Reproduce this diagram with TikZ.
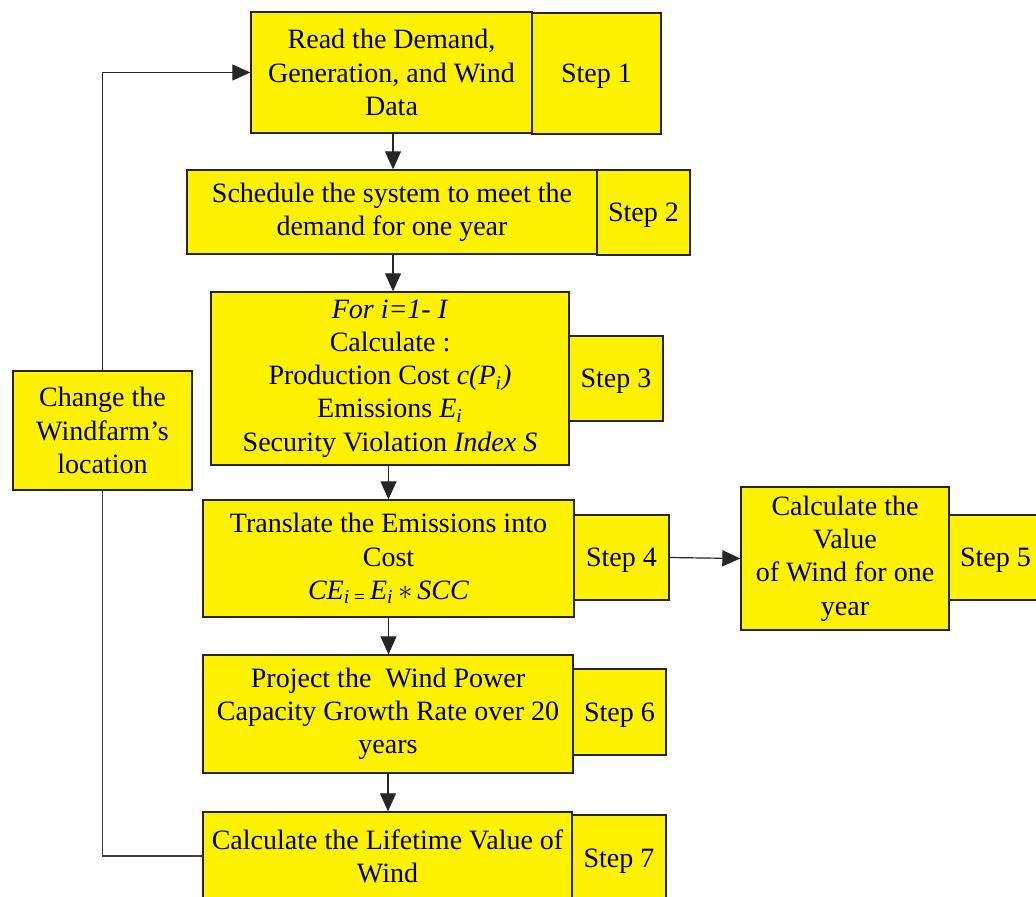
\documentclass[tikz,border=0pt]{standalone}
\usepackage{fontspec}
\setmainfont{Liberation Serif}
\usetikzlibrary{arrows.meta}
\begin{document}
\begin{tikzpicture}[
        x=0.5pt, y=-0.5pt,
        font=\fontsize{14pt}{16.6pt}\selectfont,
        box/.style={draw=black!85, fill=yellow, line width=0.7pt, align=center, inner sep=0pt},
        stepbox/.style={box, text depth=0pt, minimum height=42.5pt},
        flow/.style={-{Triangle[length=9pt,width=8pt]}, line width=0.6pt, black!85},
        loop/.style={line width=0.6pt, black!75}
    ]
        \useasboundingbox (0,0) rectangle (1036,896);

        % Pasos principales
        \node[box, minimum width=140.5pt, minimum height=60.5pt] (read) at (391.5,72.5)
            {Read the Demand,\\Generation, and Wind\\Data};
        \node[stepbox, minimum width=64.5pt, minimum height=60.5pt] (s1) at (596.5,73.5) {Step 1};

        \node[box, minimum width=205pt, minimum height=42pt] (sched) at (392,212)
            {Schedule the system to meet the\\demand for one year};
        \node[stepbox, minimum width=46.5pt] (s2) at (643.5,212.5) {Step 2};

        \node[box, minimum width=179pt, minimum height=86.5pt] (calc) at (390,378.5)
            {\textit{For i=1- I}\\Calculate :\\Production Cost \textit{c(P\textsubscript{i})}\\
             Emissions \textit{E\textsubscript{i}}\\Security Violation \textit{Index S}};
        \node[stepbox, minimum width=47pt] (s3) at (616,378.5) {Step 3};

        \node[box, minimum width=185.5pt, minimum height=58.5pt] (trans) at (388.5,558.5)
            {Translate the Emissions into\\Cost\\
             \textit{CE\textsubscript{i\,=\,}E\textsubscript{i}\,$\ast$\,SCC}};
        \node[stepbox, minimum width=47.5pt] (s4) at (621.5,557.5) {Step 4};

        \node[box, minimum width=104pt, minimum height=71.5pt] (val) at (845,558.5)
            {Calculate the\\Value\\of Wind for one\\year};
        \node[stepbox, minimum width=46.5pt] (s5) at (995.5,557.5) {Step 5};

        \node[box, minimum width=185pt, minimum height=59pt] (proj) at (388,714)
            {Project the\ \ Wind Power\\Capacity Growth Rate over 20\\years};
        \node[stepbox, minimum width=46.5pt, minimum height=43pt] (s6) at (619.5,712) {Step 6};

        \node[box, minimum width=184.5pt, minimum height=44pt] (life) at (387.5,856)
            {Calculate the Lifetime Value of\\Wind};
        \node[stepbox, minimum width=47pt, minimum height=43pt] (s7) at (619,858) {Step 7};

        % Cambio de ubicacion
        \node[box, minimum width=89.5pt, minimum height=59.5pt] (chg) at (102.5,430.5)
            {Change the\\Windfarm's\\location};

        % Flechas
        \draw[flow] (read.south -| 393,0) -- (sched.north -| 393,0);
        \draw[flow] (sched.south -| 393,0) -- (calc.north -| 393,0);
        \draw[flow] (calc.south -| trans.north) -- (trans.north);
        \draw[flow] (trans.south) -- (proj.north -| trans.south);
        \draw[flow] (proj.south) -- (life.north -| proj.south);
        \draw[flow] (s4.east) -- (val.west);

        % Lazo de retorno
        \draw[loop] (life.west) -- (life.west -| chg.south) -- (chg.south);
        \draw[loop, flow] (chg.north) -- (chg.north |- read.west) -- (read.west);

    \end{tikzpicture}
\end{document}
